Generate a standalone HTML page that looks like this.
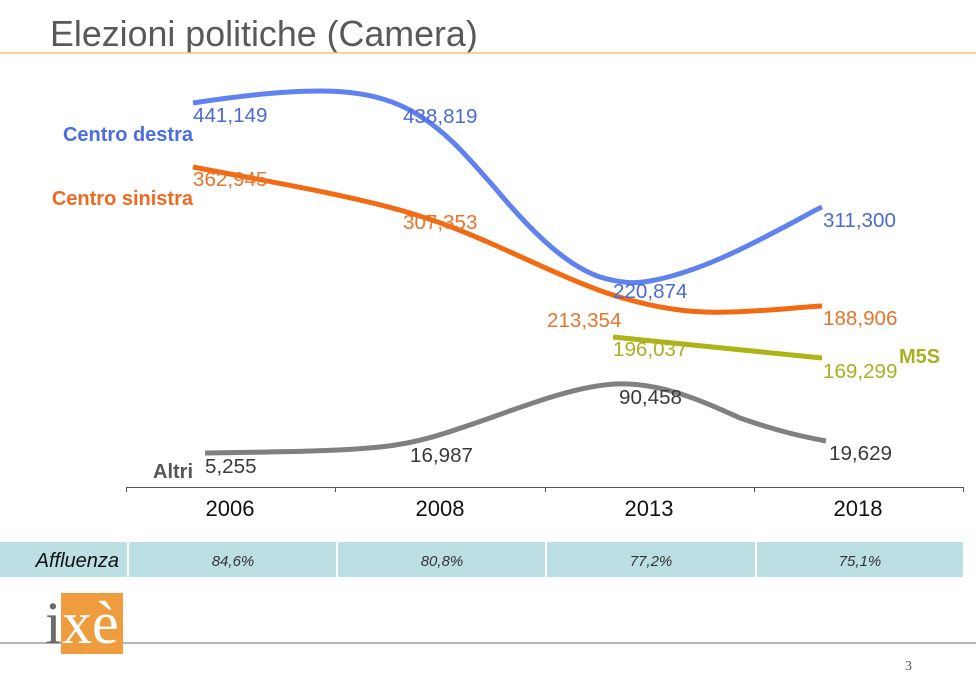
<!DOCTYPE html>
<html>
<head>
<meta charset="utf-8">
<style>
  html,body{margin:0;padding:0;background:#fff;}
  svg{display:block;}
  .s{font-family:"Liberation Sans",Arial,sans-serif;}
  .r{font-family:"Liberation Serif","Times New Roman",serif;}
</style>
</head>
<body>
<svg width="976" height="684" viewBox="0 0 976 684" xmlns="http://www.w3.org/2000/svg">
  <rect width="976" height="684" fill="#ffffff"/>
  <!-- Title -->
  <text class="s" x="50" y="46" font-size="35.8" fill="#595959">Elezioni politiche (Camera)</text>
  <line x1="0" y1="53" x2="976" y2="53" stroke="#f2c47e" stroke-width="1.6"/>

  <!-- Series lines -->
  <path d="M193,103 C245,95 285,91 320,91 C365,91 395,100 420,116 C450,135 470,160 495,188 C530,230 565,265 600,277 C620,283 635,284 650,281 C700,272 750,245 790,224 C805,216 815,210 822,207" fill="none" stroke="#5f82f0" stroke-width="5"/>
  <path d="M193,167 C260,180 350,195 410,213 C440,222 460,230 490,243 C540,265 590,290 630,300 C670,311 700,313 730,312 C770,311 800,307 822,306" fill="none" stroke="#f26a12" stroke-width="5"/>
  <path d="M613,337 L822,358" fill="none" stroke="#acb416" stroke-width="5"/>
  <path d="M205,453 C260,452 330,452 380,447 C420,443 450,432 490,418 C540,400 580,386 615,384 C660,382 700,400 740,418 C780,432 805,437 826,441" fill="none" stroke="#808080" stroke-width="5"/>

  <!-- Series names -->
  <g class="s" font-size="20" font-weight="bold">
    <text x="193" y="141" text-anchor="end" fill="#4a6ee0">Centro destra</text>
    <text x="193" y="205" text-anchor="end" fill="#ee6a1e">Centro sinistra</text>
    <text x="899" y="363" fill="#a8b020">M5S</text>
    <text x="193" y="478" text-anchor="end" fill="#555555">Altri</text>
  </g>

  <!-- Data labels -->
  <g class="s" font-size="20.6">
    <text x="193" y="122" fill="#4a6ad6">441,149</text>
    <text x="403" y="123" fill="#4a6ad6">438,819</text>
    <text x="613" y="298" fill="#4a6ad6">220,874</text>
    <text x="823" y="227" fill="#4a6ad6">311,300</text>

    <text x="193" y="186" fill="#e8742c">362,945</text>
    <text x="403" y="229" fill="#e8742c">307,353</text>
    <text x="547" y="327" fill="#e8742c">213,354</text>
    <text x="823" y="325" fill="#e8742c">188,906</text>

    <text x="613" y="356" fill="#a9b022">196,037</text>
    <text x="823" y="378" fill="#a9b022">169,299</text>

    <text x="205" y="473" fill="#3a3a3a">5,255</text>
    <text x="410" y="462" fill="#3a3a3a">16,987</text>
    <text x="619" y="404" fill="#3a3a3a">90,458</text>
    <text x="829" y="460" fill="#3a3a3a">19,629</text>
  </g>

  <!-- Axis -->
  <line x1="126" y1="487.5" x2="964" y2="487.5" stroke="#555" stroke-width="1"/>
  <g stroke="#555" stroke-width="1">
    <line x1="126.5" y1="487" x2="126.5" y2="492"/>
    <line x1="335.5" y1="487" x2="335.5" y2="492"/>
    <line x1="545.5" y1="487" x2="545.5" y2="492"/>
    <line x1="754.5" y1="487" x2="754.5" y2="492"/>
    <line x1="963.5" y1="487" x2="963.5" y2="492"/>
  </g>
  <g class="s" font-size="22" fill="#111" text-anchor="middle">
    <text x="230" y="516">2006</text>
    <text x="440" y="516">2008</text>
    <text x="649" y="516">2013</text>
    <text x="858" y="516">2018</text>
  </g>

  <!-- Affluenza row -->
  <g fill="#bcdfe3">
    <rect x="0" y="542" width="127" height="35"/>
    <rect x="129" y="542" width="207" height="35"/>
    <rect x="338" y="542" width="207" height="35"/>
    <rect x="547" y="542" width="208" height="35"/>
    <rect x="757" y="542" width="206" height="35"/>
  </g>
  <text class="s" x="119" y="567" font-size="20" font-style="italic" text-anchor="end" fill="#111">Affluenza</text>
  <g class="s" font-size="15" font-style="italic" text-anchor="middle" fill="#333">
    <text x="233" y="566">84,6%</text>
    <text x="442" y="566">80,8%</text>
    <text x="651" y="566">77,2%</text>
    <text x="860" y="566">75,1%</text>
  </g>

  <!-- Footer -->
  <line x1="0" y1="643" x2="976" y2="643" stroke="#8a8a8a" stroke-width="1.2"/>
  <rect x="61" y="593" width="62" height="61" fill="#ef9c3e"/>
  <text class="r" x="45" y="643" font-size="60" fill="#6a6a6a">i</text>
  <text class="r" x="62" y="643" font-size="60" fill="#ffffff">xè</text>
  <text class="r" x="905" y="670" font-size="14" fill="#555">3</text>
</svg>
</body>
</html>
